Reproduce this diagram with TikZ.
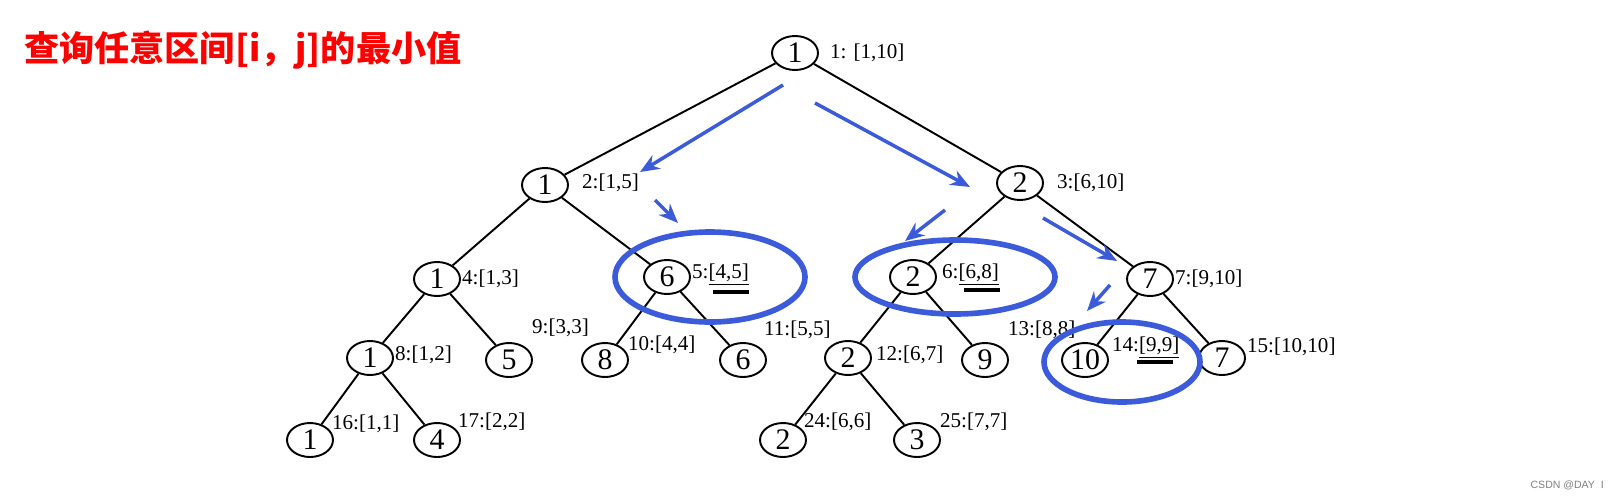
\documentclass[tikz,border=0pt]{standalone}
\usetikzlibrary{shapes.geometric,arrows.meta}
\usepackage{fontspec}
\setmainfont{Liberation Serif}
\newfontfamily\cjk{Noto Sans CJK SC}
\newfontfamily\sans{Liberation Sans}
\begin{document}
\begin{tikzpicture}[x=0.02cm,y=-0.02cm,
  tn/.style={draw,line width=1.1pt,ellipse,minimum width=0.92cm,minimum height=0.68cm,inner sep=0pt,font=\fontsize{17}{17}\selectfont},
  lab/.style={font=\fontsize{12}{12}\selectfont,anchor=west,inner sep=1pt},
  edge/.style={line width=1.1pt},
  barr/.style={draw=bl,line width=2pt,-{Stealth[length=11pt,width=9pt]}},
  bring/.style={draw=bl,line width=3.2pt}]
\definecolor{bl}{HTML}{3B5BDB}
\useasboundingbox (0,0) rectangle (1615,501);
\node[anchor=west,text=red,font=\cjk\bfseries\fontsize{20}{20}\selectfont] (title) at (18,50) {查询任意区间[i，j]的最小值};
\node[anchor=south east,text=gray,font=\sans\fontsize{6}{6}\selectfont] (wm) at (1610,496) {CSDN @DAY\ \ I};
\foreach \n/\x/\y/\v in {1/795/53/1,2/545/185/1,3/1020/183/2,4/437/279/1,5/667/277/6,6/913/277/2,7/1150/279/7,8/370/358/1,9/509/360/5,10/605/360/8,11/743/360/6,12/848/358/2,13/985/360/9,14/1085/360/10,15/1222/358/7,16/310/440/1,17/437/440/4,24/783/440/2,25/917/440/3}
  \node[tn] (n\n) at (\x,\y) {\v};
\foreach \a/\b in {1/2,1/3,2/4,2/5,3/6,3/7,4/8,4/9,5/10,5/11,6/12,6/13,7/14,7/15,8/16,8/17,12/24,12/25}
  \draw[edge] (n\a) -- (n\b);
\node[lab] (l1) at (828,53) {1: [1,10]};
\node[lab] (l2) at (580,183) {2:[1,5]};
\node[lab] (l3) at (1055,183) {3:[6,10]};
\node[lab] (l4) at (460,279) {4:[1,3]};
\node[lab] (l5) at (690,275) {5:\underline{[4,5]}};
\node[lab] (l6) at (940,275) {6:\underline{[6,8]}};
\node[lab] (l7) at (1173,279) {7:[9,10]};
\node[lab] (l8) at (393,355) {8:[1,2]};
\node[lab] (l9) at (530,328) {9:[3,3]};
\node[lab] (l10) at (626,345) {10:[4,4]};
\node[lab] (l11) at (762,330) {11:[5,5]};
\node[lab] (l12) at (874,355) {12:[6,7]};
\node[lab] (l13) at (1006,330) {13:[8,8]};
\node[lab] (l14) at (1110,348) {14:\underline{[9,9]}};
\node[lab] (l15) at (1245,347) {15:[10,10]};
\node[lab] (l16) at (330,424) {16:[1,1]};
\node[lab] (l17) at (456,422) {17:[2,2]};
\node[lab] (l24) at (802,422) {24:[6,6]};
\node[lab] (l25) at (938,422) {25:[7,7]};
\draw[line width=2.5pt] (713,292) -- (749,292);
\draw[line width=2.5pt] (964,290) -- (1000,290);
\draw[line width=2.5pt] (1137,362) -- (1173,362);
\draw[bring] (710,277) ellipse [x radius=95,y radius=45];
\draw[bring] (955,277) ellipse [x radius=100,y radius=37];
\draw[bring] (1122,362) ellipse [x radius=78,y radius=40];
\coordinate (a1s) at (783,85); \coordinate (a1e) at (640,172);
\coordinate (a2s) at (815,103); \coordinate (a2e) at (970,187);
\coordinate (a3s) at (655,200); \coordinate (a3e) at (678,223);
\coordinate (a4s) at (945,210); \coordinate (a4e) at (905,241);
\coordinate (a5s) at (1043,218); \coordinate (a5e) at (1117,261);
\coordinate (a6s) at (1110,285); \coordinate (a6e) at (1087,311);
\foreach \i in {1,...,6} \draw[barr] (a\i s) -- (a\i e);
\end{tikzpicture}
\end{document}
